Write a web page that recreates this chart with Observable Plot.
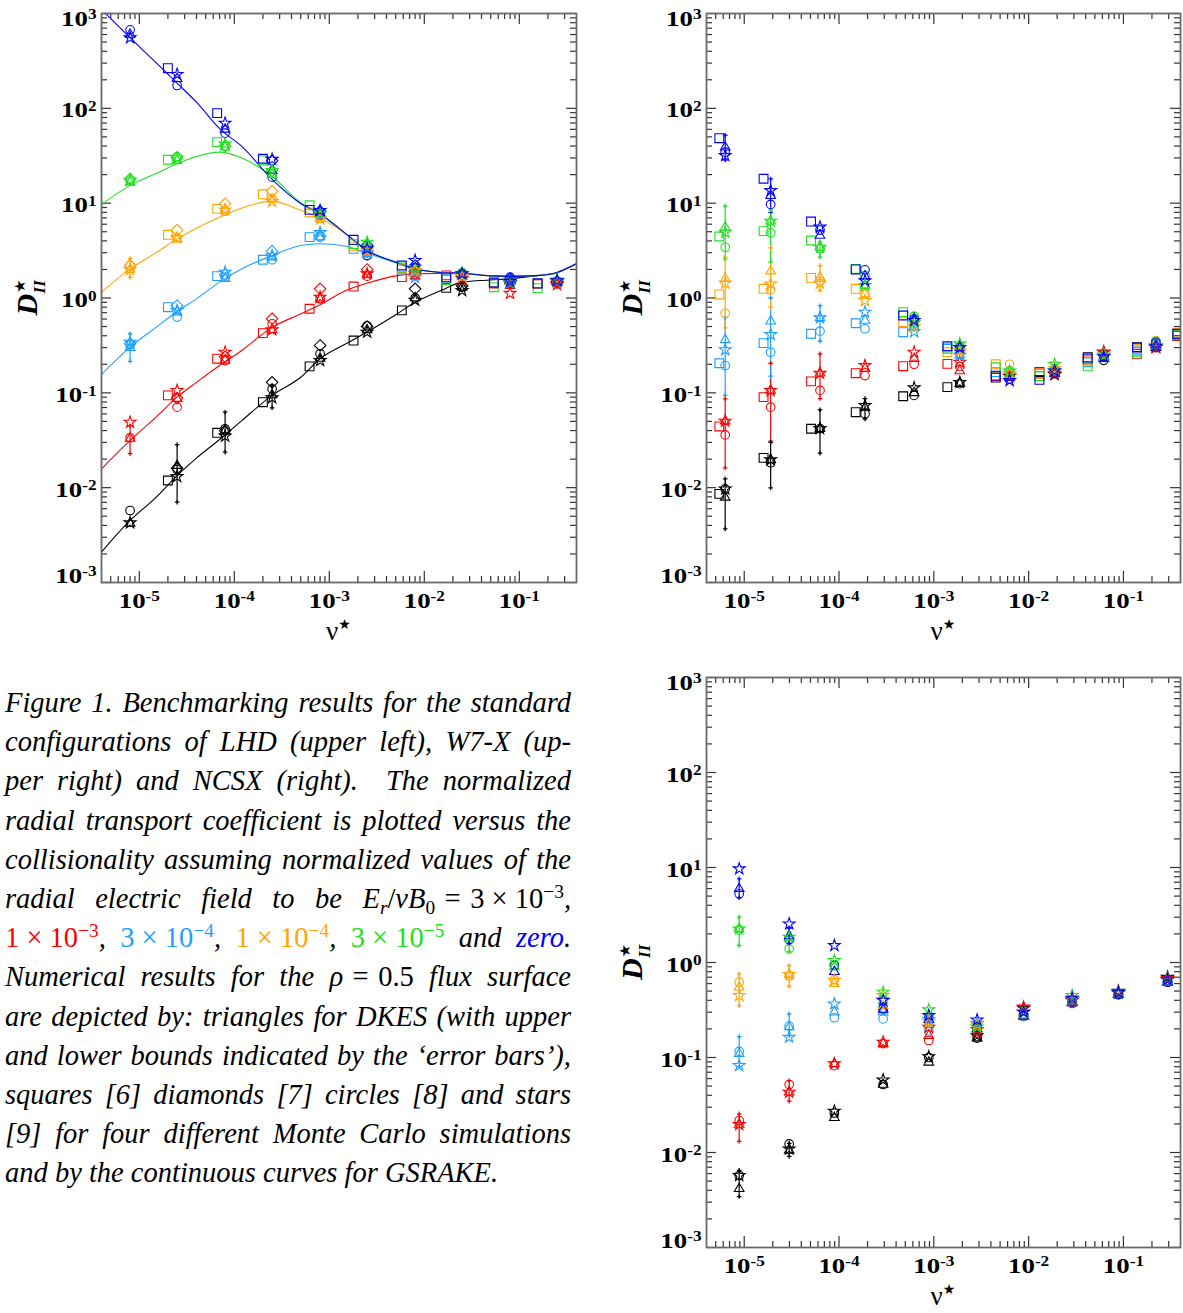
<!DOCTYPE html>
<html><head><meta charset="utf-8">
<script src="https://cdn.jsdelivr.net/npm/d3@7"></script>
<script src="https://cdn.jsdelivr.net/npm/@observablehq/plot@0.6"></script>
<style>
html,body{margin:0;padding:0;background:#fff;}
body{width:1183px;height:1313px;position:relative;overflow:hidden;font-family:"Liberation Serif",serif;}
.panel{position:absolute;}
.caption{position:absolute;left:5px;top:683px;width:566px;font-style:italic;font-size:28.5px;color:#000;}
.caption div{height:39.2px;line-height:39.2px;text-align:justify;text-align-last:justify;white-space:nowrap;}
.caption div.last{text-align-last:left;}
.caption .r{font-style:normal;}
.caption .m{display:inline-block;font-style:normal;}
.caption sup{font-size:0.68em;vertical-align:baseline;position:relative;top:-0.5em;}
.caption sub{font-size:0.68em;vertical-align:baseline;position:relative;top:0.3em;}
</style>
</head><body>
<div id="p1" class="panel" style="left:0;top:0"></div>
<div id="p2" class="panel" style="left:600px;top:0"></div>
<div id="p3" class="panel" style="left:600px;top:664px"></div>
<div class="caption">
<div>Figure 1. Benchmarking results for the standard</div>
<div>configurations of LHD (upper left), W7-X (up-</div>
<div>per right) and NCSX (right).&nbsp; The normalized</div>
<div>radial transport coefficient is plotted versus the</div>
<div>collisionality assuming normalized values of the</div>
<div>radial electric field to be <span class="m"><i>E<sub>r</sub></i>/<i>vB</i><sub>0</sub>&#8196;=&#8196;3&#8197;×&#8197;10<sup>−3</sup></span>,</div>
<div><span class="m" style="color:#ff0000">1&#8197;×&#8197;10<sup>−3</sup></span>, <span class="m" style="color:#1e9fff">3&#8197;×&#8197;10<sup>−4</sup></span>, <span class="m" style="color:#ffa500">1&#8197;×&#8197;10<sup>−4</sup></span>, <span class="m" style="color:#20e020">3&#8197;×&#8197;10<sup>−5</sup></span> and <span style="color:#0000ff">zero</span>.</div>
<div>Numerical results for the <span class="m"><i>ρ</i>&#8196;=&#8196;0.5</span> flux surface</div>
<div>are depicted by: triangles for DKES (with upper</div>
<div>and lower bounds indicated by the ‘error bars’),</div>
<div>squares [6] diamonds [7] circles [8] and stars</div>
<div>[9] for four different Monte Carlo simulations</div>
<div class="last">and by the continuous curves for GSRAKE.</div>
</div>
<script>
// ---------- axes ----------
const X_DOMAIN = [4e-6, 0.4];
const Y_DOMAIN = [1e-3, 1e3];
const xMajor = [1e-5, 1e-4, 1e-3, 1e-2, 1e-1];
const xTickLabels = ["10^-5", "10^-4", "10^-3", "10^-2", "10^-1"];
const yMajor = [1e-3, 1e-2, 1e-1, 1, 10, 100, 1000];
const yTickLabels = ["10^-3", "10^-2", "10^-1", "10^0", "10^1", "10^2", "10^3"];

// series: Er/vB0 = 3e-3, 1e-3, 3e-4, 1e-4, 3e-5, 0
const seriesNames = ["3e-3", "1e-3", "3e-4", "1e-4", "3e-5", "0"];
const seriesColors = ["#000000", "#ff0000", "#1e9fff", "#ffa500", "#20e020", "#0000ff"];

// ---------- LHD (upper left) ----------
const lhdNu = [8e-6, 2.5e-5, 8e-5, 2.5e-4, 8e-4, 2.5e-3, 8e-3, 2.5e-2, 8e-2, 0.25];
const lhdSquareNu = [null, 2e-5, 6.6e-5, 2e-4, 6.2e-4, 1.8e-3, 5.8e-3, 1.7e-2, 5.4e-2, 0.156];
const lhdTriangle = [
  [0.0042, 0.0171, 0.040, 0.095, 0.23, 0.46, 1.0, 1.3, 1.5, 1.5],
  [0.033, 0.087, 0.22, 0.462, 0.97, 1.75, 1.7, 1.75, 1.35, 1.45],
  [0.30, 0.71, 1.6, 2.7, 4.4, 2.9, 1.9, 1.7, 1.5, 1.5],
  [2.0, 4.2, 8.6, 11, 6.9, 3.2, 2.0, 1.75, 1.5, 1.5],
  [16.6, 28, 38.9, 20, 7.6, 3.6, 2.0, 1.8, 1.5, 1.5],
  [600, 205, 60, 22, 7.8, 3.2, 2.1, 1.8, 1.55, 1.5]
];
const lhdTriangleLow = [
  [null, 0.00703, 0.0237, 0.0695, null, null, null, null, null, null],
  [0.0228, null, null, null, null, null, null, null, null, null],
  [0.215, null, null, null, null, null, null, null, null, null],
  [1.65, null, null, null, null, null, null, null, null, null],
  [null, null, null, null, null, null, null, null, null, null],
  [null, null, null, null, null, null, null, null, null, null]
];
const lhdTriangleHigh = [
  [null, 0.0285, 0.0625, 0.12, null, null, null, null, null, null],
  [0.045, null, null, null, null, null, null, null, null, null],
  [0.42, null, null, null, null, null, null, null, null, null],
  [2.6, null, null, null, null, null, null, null, null, null],
  [null, null, null, null, null, null, null, null, null, null],
  [null, null, null, null, null, null, null, null, null, null]
];
const lhdSquare = [
  [null, 0.0119, 0.0379, 0.0797, 0.19, 0.356, 0.74, 1.28, 1.45, 1.42],
  [null, 0.094, 0.229, 0.426, 0.77, 1.32, 1.66, 1.73, 1.42, 1.40],
  [null, 0.80, 1.70, 2.53, 4.38, 3.3, 2.0, 1.6, 1.45, 1.42],
  [null, 4.64, 8.7, 12.4, 7.98, 3.5, 2.05, 1.65, 1.45, 1.40],
  [null, 28.7, 44, 28.2, 9.5, 3.7, 2.1, 1.55, 1.30, 1.27],
  [null, 265, 89, 29.4, 8.5, 4.11, 2.2, 1.65, 1.45, 1.42]
];
const lhdDiamond = [
  [null, 0.016, 0.040, 0.129, 0.316, 0.50, 1.25, 1.35, 1.5, 1.5],
  [null, 0.088, 0.24, 0.604, 1.25, 2.0, 1.8, 1.75, 1.45, 1.45],
  [0.33, 0.83, 1.75, 3.12, 4.5, 3.1, 2.0, 1.75, 1.5, 1.5],
  [2.2, 5.2, 9.85, 13.4, 7.3, 3.3, 2.0, 1.75, 1.5, 1.5],
  [18, 30, 40, 22, 8.0, 3.5, 2.0, 1.8, 1.5, 1.5],
  [null, null, null, 28, 8.2, 3.6, 2.2, 1.8, 1.6, 1.5]
];
const lhdCircle = [
  [0.00574, 0.0155, 0.0418, 0.11, 0.258, 0.51, 1.0, 1.3, 1.45, 1.5],
  [0.0336, 0.0706, 0.219, 0.535, 0.98, 1.7, 1.75, 1.75, 1.45, 1.45],
  [0.32, 0.63, 1.66, 2.53, 4.4, 2.8, 1.9, 1.75, 1.5, 1.5],
  [2.2, 4.3, 8.2, 11.2, 6.85, 3.2, 2.0, 1.85, 1.5, 1.5],
  [17.5, 31, 40, 20.4, 7.9, 3.5, 2.05, 1.85, 1.5, 1.5],
  [673, 174, 54.7, 18.8, 7.5, 2.8, 2.0, 1.8, 1.66, 1.5]
];
const lhdStar = [
  [0.00426, 0.0131, 0.035, 0.0887, 0.219, 0.437, 0.95, 1.2, 1.45, 1.52],
  [0.049, 0.106, 0.268, 0.462, 1.02, 1.8, 1.8, 1.6, 1.12, 1.39],
  [0.342, 0.74, 1.87, 2.8, 4.9, 3.0, 1.65, 1.7, 1.45, 1.5],
  [2.0, 4.3, 8.5, 10.4, 6.85, 3.2, 1.95, 1.7, 1.5, 1.5],
  [17.5, 30, 42, 22.1, 7.9, 3.88, 2.1, 1.8, 1.5, 1.55],
  [555, 228, 69.8, 29, 8.37, 3.3, 2.49, 1.8, 1.5, 1.52]
];
// GSRAKE curves (LHD)
const gsrakeNu = [4e-6, 8e-6, 1.5e-5, 2.5e-5, 4e-5, 7e-5, 1.2e-4, 2.5e-4, 5e-4, 8e-4, 1.5e-3, 2.5e-3, 5e-3, 8e-3, 1.5e-2, 2.5e-2, 5e-2, 8e-2, 0.15, 0.25, 0.4];
const gsrakeBlack  = [0.00209, 0.00451, 0.0079, 0.0134, 0.0205, 0.0322, 0.051, 0.094, 0.146, 0.229, 0.329, 0.437, 0.665, 0.90, 1.2, 1.47, 1.55, 1.6, 1.72, 1.86, 2.3];
const gsrakeRed    = [0.0158, 0.0315, 0.0554, 0.09, 0.129, 0.194, 0.28, 0.49, 0.68, 0.85, 1.2, 1.43, 1.71, 1.8, 1.82, 1.8, 1.72, 1.69, 1.72, 1.86, 2.3];
const gsrakeLBlue  = [0.156, 0.303, 0.49, 0.72, 0.98, 1.47, 2.03, 2.8, 3.58, 3.73, 3.52, 2.96, 2.35, 2.03, 1.86, 1.83, 1.71, 1.69, 1.72, 1.86, 2.3];
const gsrakeOrange = [1.15, 2.03, 3.0, 4.2, 5.45, 7.1, 8.9, 10.5, 8.4, 7.0, 4.7, 3.17, 2.39, 2.03, 1.86, 1.83, 1.71, 1.69, 1.72, 1.86, 2.3];
const gsrakeGreen  = [9.7, 15.4, 20.5, 26, 31, 34.5, 30, 19.1, 10.1, 7.7, 4.75, 3.17, 2.39, 2.03, 1.86, 1.83, 1.71, 1.69, 1.72, 1.86, 2.3];
const gsrakeBlue   = [1100, 556, 303, 184, 116, 61, 39.7, 17.8, 9.9, 7.7, 4.75, 3.17, 2.39, 2.03, 1.86, 1.83, 1.71, 1.69, 1.72, 1.86, 2.3];

// ---------- W7-X (upper right) ----------
const w7xNu = [6.3e-6, 1.9e-5, 6.3e-5, 1.88e-4, 6.2e-4, 1.88e-3, 6.3e-3, 1.88e-2, 6.2e-2, 0.22];
const w7xSquareNu = [5.46e-6, 1.6e-5, 5.07e-5, 1.5e-4, 4.75e-4, 1.39e-3, 4.5e-3, 1.3e-2, 4.2e-2, 0.139, 0.37];
const w7xTriangle = [
  [0.0079, 0.0197, 0.042, 0.07, 0.1, 0.125, 0.15, 0.16, 0.23, 0.3],
  [0.0503, 0.106, 0.161, 0.18, 0.229, 0.17, 0.15, 0.17, 0.24, 0.31],
  [0.362, 0.57, 0.618, 0.58, 0.5, 0.25, 0.16, 0.17, 0.24, 0.31],
  [1.6, 1.92, 1.66, 1.1, 0.55, 0.28, 0.17, 0.17, 0.24, 0.32],
  [5.58, 6.45, 3.43, 1.36, 0.6, 0.3, 0.16, 0.18, 0.24, 0.32],
  [38.9, 12, 4.56, 1.7, 0.6, 0.3, 0.145, 0.16, 0.23, 0.32]
];
const w7xTriangleLow = [
  [0.00368, 0.00996, 0.0231, 0.053, null, null, null, null, null, null],
  [0.0162, 0.031, 0.087, null, null, null, null, null, null, null],
  [0.094, 0.15, 0.35, null, null, null, null, null, null, null],
  [0.485, 0.8, 1.2, null, null, null, null, null, null, null],
  [2.59, 2.4, 2.7, null, null, null, null, null, null, null],
  [28.5, 8.0, null, null, null, null, null, null, null, null]
];
const w7xTriangleHigh = [
  [0.0124, 0.030, 0.0662, 0.087, null, null, null, null, null, null],
  [0.0865, 0.205, 0.258, null, null, null, null, null, null, null],
  [0.62, 1.0, 0.83, null, null, null, null, null, null, null],
  [2.7, 3.38, 2.2, null, null, null, null, null, null, null],
  [9.3, 8.5, 3.9, null, null, null, null, null, null, null],
  [52, 18, null, null, null, null, null, null, null, null]
];
const w7xSquare = [
  [0.0086, 0.0206, 0.0418, 0.0625, 0.092, 0.115, 0.145, 0.165, 0.238, 0.303, 0.40],
  [0.0442, 0.09, 0.132, 0.161, 0.191, 0.202, 0.15, 0.16, 0.22, 0.258, 0.40],
  [0.205, 0.334, 0.42, 0.542, 0.436, 0.291, 0.165, 0.15, 0.21, 0.28, 0.42],
  [1.09, 1.25, 1.63, 1.25, 0.556, 0.268, 0.2, 0.16, 0.22, 0.29, 0.43],
  [4.45, 5.07, 4.04, 2.03, 0.71, 0.3, 0.186, 0.15, 0.19, 0.27, 0.41],
  [48.4, 18.1, 6.4, 2.0, 0.654, 0.31, 0.152, 0.137, 0.23, 0.3, 0.42]
];
const w7xCircle = [
  [0.0097, 0.0183, 0.042, 0.060, 0.094, 0.125, 0.15, 0.16, 0.22, 0.30],
  [0.036, 0.0706, 0.106, 0.152, 0.2, 0.19, 0.15, 0.16, 0.24, 0.33],
  [0.194, 0.268, 0.447, 0.474, 0.5, 0.26, 0.17, 0.17, 0.25, 0.33],
  [0.69, 1.22, 1.5, 1.1, 0.64, 0.28, 0.2, 0.17, 0.25, 0.356],
  [3.43, 4.87, 3.3, 1.73, 0.64, 0.31, 0.17, 0.18, 0.25, 0.35],
  [34.5, 9.7, 5.2, 1.98, 0.6, 0.3, 0.14, 0.16, 0.24, 0.34]
];
const w7xStar = [
  [0.0097, 0.0197, 0.042, 0.0736, 0.113, 0.129, 0.15, 0.156, 0.268, 0.303],
  [0.0503, 0.106, 0.161, 0.194, 0.268, 0.21, 0.15, 0.16, 0.268, 0.30],
  [0.285, 0.412, 0.618, 0.71, 0.44, 0.25, 0.16, 0.17, 0.25, 0.31],
  [1.43, 1.41, 1.43, 0.94, 0.5, 0.28, 0.16, 0.18, 0.25, 0.31],
  [4.94, 6.45, 3.43, 1.36, 0.55, 0.329, 0.17, 0.2, 0.25, 0.31],
  [31.8, 13.6, 5.6, 1.52, 0.58, 0.3, 0.135, 0.17, 0.24, 0.31]
];

// ---------- NCSX (lower right) ----------
const ncsxNu = [8.85e-6, 2.98e-5, 8.93e-5, 2.92e-4, 8.85e-4, 2.86e-3, 8.85e-3, 2.88e-2, 8.85e-2, 0.292];
const ncsxTriangle = [
  [0.00415, 0.0105, 0.0232, 0.052, 0.089, 0.16, 0.27, 0.38, 0.46, 0.62],
  [0.0197, 0.0431, 0.086, 0.14, 0.17, 0.18, 0.27, 0.38, 0.46, 0.62],
  [0.11, 0.21, 0.30, 0.30, 0.22, 0.2, 0.27, 0.38, 0.46, 0.62],
  [0.55, 0.75, 0.6, 0.35, 0.23, 0.2, 0.27, 0.38, 0.46, 0.62],
  [2.26, 1.85, 0.9, 0.4, 0.25, 0.2, 0.28, 0.39, 0.46, 0.62],
  [5.97, 1.9, 0.8, 0.32, 0.25, 0.2, 0.27, 0.38, 0.46, 0.62]
];
const ncsxTriangleLow = [
  [0.00344, 0.0091, null, null, null, null, null, null, null, null],
  [0.0131, 0.0347, null, null, null, null, null, null, null, null],
  [0.08, 0.17, null, null, null, null, null, null, null, null],
  [0.352, 0.56, null, null, null, null, null, null, null, null],
  [1.51, 1.3, null, null, null, null, null, null, null, null],
  [4.8, 1.6, null, null, null, null, null, null, null, null]
];
const ncsxTriangleHigh = [
  [0.00647, 0.0125, null, null, null, null, null, null, null, null],
  [0.0255, 0.057, null, null, null, null, null, null, null, null],
  [0.166, 0.288, null, null, null, null, null, null, null, null],
  [0.76, 0.93, null, null, null, null, null, null, null, null],
  [3.0, 2.1, null, null, null, null, null, null, null, null],
  [7.6, 2.3, null, null, null, null, null, null, null, null]
];
const ncsxCircle = [
  [0.00573, 0.0123, 0.026, 0.052, 0.1, 0.16, 0.28, 0.38, 0.47, 0.63],
  [0.0217, 0.052, 0.082, 0.14, 0.151, 0.18, 0.27, 0.37, 0.46, 0.62],
  [0.116, 0.214, 0.262, 0.255, 0.19, 0.19, 0.27, 0.38, 0.46, 0.62],
  [0.62, 0.72, 0.66, 0.32, 0.23, 0.2, 0.28, 0.38, 0.46, 0.62],
  [2.2, 1.39, 0.95, 0.33, 0.26, 0.21, 0.28, 0.39, 0.47, 0.63],
  [5.28, 1.73, 0.93, 0.326, 0.26, 0.21, 0.28, 0.38, 0.46, 0.62]
];
const ncsxStar = [
  [0.00573, 0.0109, 0.0272, 0.058, 0.102, 0.17, 0.33, 0.40, 0.50, 0.70],
  [0.0197, 0.0431, 0.086, 0.145, 0.208, 0.196, 0.34, 0.40, 0.49, 0.68],
  [0.0824, 0.164, 0.367, 0.4, 0.25, 0.23, 0.3, 0.41, 0.48, 0.66],
  [0.45, 0.75, 0.65, 0.45, 0.24, 0.22, 0.3, 0.42, 0.48, 0.66],
  [2.26, 1.85, 1.05, 0.487, 0.318, 0.21, 0.3, 0.45, 0.48, 0.66],
  [9.7, 2.55, 1.51, 0.4, 0.277, 0.249, 0.3, 0.42, 0.48, 0.66]
];

// ---------- helpers ----------
function rows(nu, table) {
  const out = [];
  table.forEach((vals, s) => vals.forEach((v, i) => {
    if (v != null && nu[i] != null) out.push({nu: nu[i], D: v, color: seriesColors[s], s: seriesNames[s]});
  }));
  return out;
}
function errRows(nu, lo, hi) {
  const out = [];
  lo.forEach((vals, s) => vals.forEach((v, i) => {
    if (v != null && hi[s][i] != null) out.push({nu: nu[i], lo: v, hi: hi[s][i], color: seriesColors[s]});
  }));
  return out;
}
function curveRows(nu, table) {
  const out = [];
  table.forEach((vals, s) => vals.forEach((v, i) => out.push({nu: nu[i], D: v, color: seriesColors[s], s: seriesNames[s]})));
  return out;
}
const SW = 1.1;
function symbolMarks(spec) {
  const m = [];
  if (spec.err) {
    const e = errRows(spec.nu, spec.err[0], spec.err[1]);
    m.push(Plot.ruleX(e, {x: "nu", y1: "lo", y2: "hi", stroke: "color", strokeWidth: 1.2}));
    m.push(Plot.dot(e, {x: "nu", y: "lo", stroke: "color", symbol: "plus", r: 1.6, strokeWidth: 1.3}));
    m.push(Plot.dot(e, {x: "nu", y: "hi", stroke: "color", symbol: "plus", r: 1.6, strokeWidth: 1.3}));
  }
  if (spec.square) m.push(Plot.dot(rows(spec.squareNu, spec.square), {x: "nu", y: "D", stroke: "color", fill: "none", symbol: "square2", r: 5.6, strokeWidth: SW, clip: true}));
  if (spec.diamond) m.push(Plot.dot(rows(spec.nu, spec.diamond), {x: "nu", y: "D", stroke: "color", fill: "none", symbol: "diamond2", r: 5.2, strokeWidth: SW}));
  if (spec.circle) m.push(Plot.dot(rows(spec.nu, spec.circle), {x: "nu", y: "D", stroke: "color", fill: "none", symbol: "circle", r: 4.3, strokeWidth: SW}));
  if (spec.triangle) m.push(Plot.dot(rows(spec.nu, spec.triangle), {x: "nu", y: "D", stroke: "color", fill: "none", symbol: "triangle2", r: 4.6, strokeWidth: SW}));
  if (spec.star) m.push(Plot.dot(rows(spec.nu, spec.star), {x: "nu", y: "D", stroke: "color", fill: "none", symbol: "star", r: 3.7, strokeWidth: SW}));
  return m;
}

const xMinor = d3.range(-6, 0).flatMap(e => d3.range(2, 10).map(k => k * Math.pow(10, e))).filter(v => v > X_DOMAIN[0] && v < X_DOMAIN[1]);
const yMinor = d3.range(-3, 3).flatMap(e => d3.range(2, 10).map(k => k * Math.pow(10, e)));
const TICK = "#333";
const FONT = "Liberation Serif";

function makePanel(hostId, cfg) {
  const W = cfg.width - cfg.ml - cfg.mr, H = cfg.height - cfg.mt - cfg.mb;
  const n = yMajor.length;
  const lab = {fontFamily: FONT, fontWeight: "bold", fontSize: 22, fill: "#000"};
  const marks = [
    Plot.tickY(yMajor, {y: d => d, insetRight: W - 10, stroke: TICK, strokeWidth: 1.2}),
    Plot.tickY(yMajor, {y: d => d, insetLeft: W - 10, stroke: TICK, strokeWidth: 1.2}),
    Plot.tickY(yMinor, {y: d => d, insetRight: W - 6, stroke: TICK, strokeWidth: 1.2}),
    Plot.tickY(yMinor, {y: d => d, insetLeft: W - 6, stroke: TICK, strokeWidth: 1.2}),
    Plot.tickX(xMajor, {x: d => d, insetTop: H - 11, stroke: TICK, strokeWidth: 1.2}),
    Plot.tickX(xMajor, {x: d => d, insetBottom: H - 11, stroke: TICK, strokeWidth: 1.2}),
    Plot.tickX(xMinor, {x: d => d, insetTop: H - 6, stroke: TICK, strokeWidth: 1.2}),
    Plot.tickX(xMinor, {x: d => d, insetBottom: H - 6, stroke: TICK, strokeWidth: 1.2}),
    ...cfg.marks,
    Plot.frame({stroke: "#6a6a6a", strokeWidth: 1.8}),
    Plot.text(xMajor, {x: d => d, text: (d, i) => xTickLabels[i], frameAnchor: "bottom", dy: 25, ...lab}),
    Plot.text(yMajor.slice(1, n - 1), {y: d => d, text: (d, i) => yTickLabels[i + 1], frameAnchor: "left", dx: -5, dy: 2, textAnchor: "end", ...lab}),
    Plot.text([yMajor[0]], {y: d => d, text: () => yTickLabels[0], frameAnchor: "left", dx: -5, dy: -7, textAnchor: "end", ...lab}),
    Plot.text([yMajor[n - 1]], {y: d => d, text: () => yTickLabels[n - 1], frameAnchor: "left", dx: -5, dy: 5, textAnchor: "end", ...lab})
  ];
  const svg = Plot.plot({
    width: cfg.width, height: cfg.height,
    marginLeft: cfg.ml, marginRight: cfg.mr, marginTop: cfg.mt, marginBottom: cfg.mb,
    x: {type: "log", domain: X_DOMAIN, axis: null},
    y: {type: "log", domain: Y_DOMAIN, axis: null},
    color: {type: "identity"},
    style: {background: "transparent", overflow: "visible"},
    marks
  });
  document.getElementById(hostId).appendChild(svg);
  const NS = "http://www.w3.org/2000/svg";
  // superscripts for tick labels, slightly widened like the original font
  svg.querySelectorAll("text").forEach(t => {
    const m = t.textContent.match(/^10\^(.+)$/);
    if (!m) return;
    t.textContent = "10";
    const sp = document.createElementNS(NS, "tspan");
    sp.setAttribute("dy", "-0.45em");
    sp.setAttribute("font-size", "0.64em");
    sp.textContent = m[1];
    t.appendChild(sp);
    const w = t.getComputedTextLength();
    t.setAttribute("textLength", (w * 1.22).toFixed(1));
    t.setAttribute("lengthAdjust", "spacingAndGlyphs");
  });
  // axis titles
  const g = d3.select(svg);
  const yt = g.append("text")
    .attr("transform", `translate(${cfg.ml - 64},${cfg.mt + H / 2}) rotate(-90)`)
    .attr("text-anchor", "middle")
    .attr("font-family", FONT).attr("font-weight", "bold").attr("font-style", "italic")
    .attr("font-size", 30).attr("fill", "#000");
  yt.append("tspan").text("D");
  yt.append("tspan").attr("dy", -12).attr("dx", 1).attr("font-size", 15).attr("font-style", "normal").attr("font-family", "DejaVu Sans").text("★");
  yt.append("tspan").attr("dy", 20).attr("dx", -14).attr("font-size", 17).text("II");
  const xt = g.append("text")
    .attr("x", cfg.ml + W / 2).attr("y", cfg.mt + H + 58)
    .attr("text-anchor", "middle")
    .attr("font-family", FONT).attr("font-size", 27).attr("fill", "#000");
  xt.append("tspan").text("ν");
  xt.append("tspan").attr("dy", -11).attr("font-size", 14).attr("font-family", "DejaVu Sans").text("★");
}

// LHD
makePanel("p1", {
  width: 590, height: 650, ml: 101, mr: 14, mt: 13, mb: 68,
  marks: [
    Plot.line(curveRows(gsrakeNu, [gsrakeBlack, gsrakeRed, gsrakeLBlue, gsrakeOrange, gsrakeGreen, gsrakeBlue]),
      {x: "nu", y: "D", z: "s", stroke: "color", strokeWidth: 1.1, curve: "monotone-x", clip: true}),
    ...symbolMarks({nu: lhdNu, squareNu: lhdSquareNu, square: lhdSquare, diamond: lhdDiamond, circle: lhdCircle, triangle: lhdTriangle, star: lhdStar, err: [lhdTriangleLow, lhdTriangleHigh]})
  ]
});
// W7-X
makePanel("p2", {
  width: 583, height: 650, ml: 106, mr: 3, mt: 13, mb: 68,
  marks: symbolMarks({nu: w7xNu, squareNu: w7xSquareNu, square: w7xSquare, circle: w7xCircle, triangle: w7xTriangle, star: w7xStar, err: [w7xTriangleLow, w7xTriangleHigh]})
});
// NCSX
makePanel("p3", {
  width: 583, height: 649, ml: 106, mr: 3, mt: 13, mb: 66,
  marks: symbolMarks({nu: ncsxNu, circle: ncsxCircle, triangle: ncsxTriangle, star: ncsxStar, err: [ncsxTriangleLow, ncsxTriangleHigh]})
});
</script>
</body></html>
